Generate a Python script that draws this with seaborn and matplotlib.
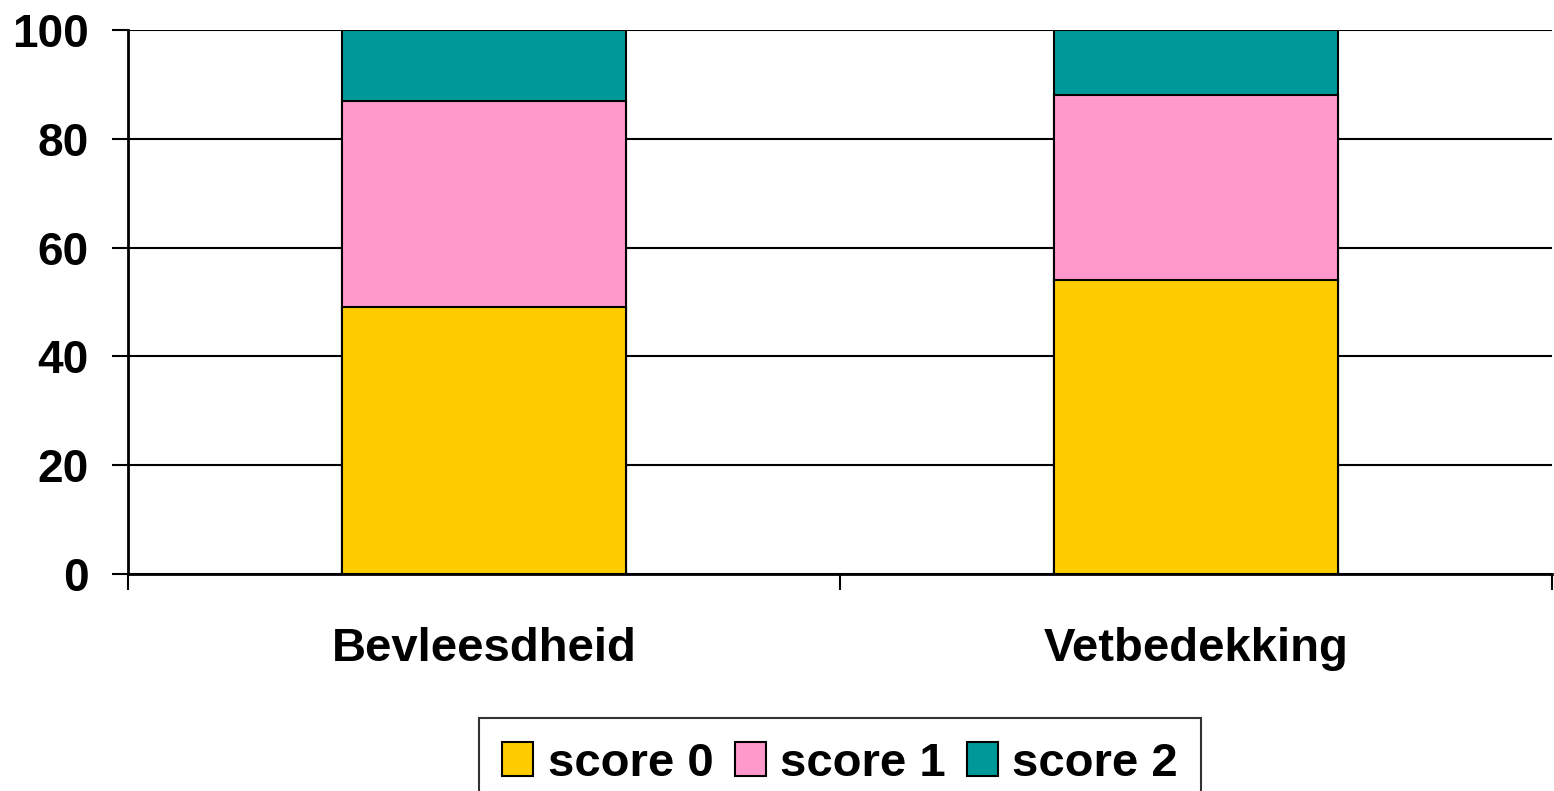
import matplotlib
matplotlib.use('Agg')
import matplotlib.pyplot as plt
import pandas as pd
import seaborn as sns

# Data
categories = ['Bevleesdheid', 'Vetbedekking']
score_0 = [49, 54]
score_1 = [38, 34]
score_2 = [13, 12]
series_names = ['score 0', 'score 1', 'score 2']
colors = ['#FFCC00', '#FF99CC', '#009999']

sns.set_theme(style='white')
plt.rcParams['font.family'] = ['Liberation Sans', 'DejaVu Sans']
plt.rcParams['font.weight'] = 'bold'
plt.rcParams['text.color'] = 'black'

fig = plt.figure(figsize=(15.54, 7.91), dpi=100)
ax = fig.add_axes([128 / 1554, 1 - 574 / 791, (1552 - 128) / 1554, 544 / 791])

# stacked bars: draw cumulative totals from the top layer down
layers = [score_0, score_1, score_2]
cum = []
running = [0] * len(categories)
for layer in layers:
    running = [r + v for r, v in zip(running, layer)]
    cum.append(list(running))

for i in reversed(range(len(layers))):
    df = pd.DataFrame({'cat': categories, 'val': cum[i]})
    sns.barplot(data=df, x='cat', y='val', color=colors[i], width=0.4,
                edgecolor='black', linewidth=1.5, saturation=1, ax=ax, zorder=3)

ax.set_xlim(-0.5, 1.5)
ax.set_ylim(0, 100)
ax.set_yticks([0, 20, 40, 60, 80, 100])
ax.set_xlabel('')
ax.set_ylabel('')

ax.yaxis.grid(True, color='black', linewidth=1.5, zorder=0)
ax.set_axisbelow(True)
for s in ['top', 'right']:
    ax.spines[s].set_visible(False)
for s in ['left', 'bottom']:
    ax.spines[s].set_color('black')
    ax.spines[s].set_linewidth(2)

ax.tick_params(axis='y', which='major', length=11.5, width=1.5, color='black',
               direction='out', left=True, labelsize=33, pad=17)
ax.tick_params(axis='x', which='major', length=0, labelsize=34, pad=38)
ax.set_xticks([-0.5, 0.5, 1.5], minor=True)
ax.tick_params(axis='x', which='minor', length=11.5, width=1.5, color='black',
               direction='out', bottom=True)
for lab in ax.get_xticklabels() + ax.get_yticklabels():
    lab.set_fontweight('bold')
    lab.set_color('black')

handles = [plt.Rectangle((0, 0), 1, 1, facecolor=c, edgecolor='black', linewidth=1.5)
           for c in colors]
leg = fig.legend(handles, series_names, loc='upper center',
                 bbox_to_anchor=(840 / 1554, 1 - 718 / 791), ncol=3,
                 frameon=True, fancybox=False, edgecolor='black',
                 prop={'size': 34, 'weight': 'bold'},
                 handlelength=0.66, handleheight=0.75, handletextpad=0.3,
                 columnspacing=0.45, borderpad=0.5, borderaxespad=0)
leg.get_frame().set_linewidth(1.5)
for t in leg.get_texts():
    t.set_color('black')

fig.savefig('out.png', dpi=100, facecolor='white')
